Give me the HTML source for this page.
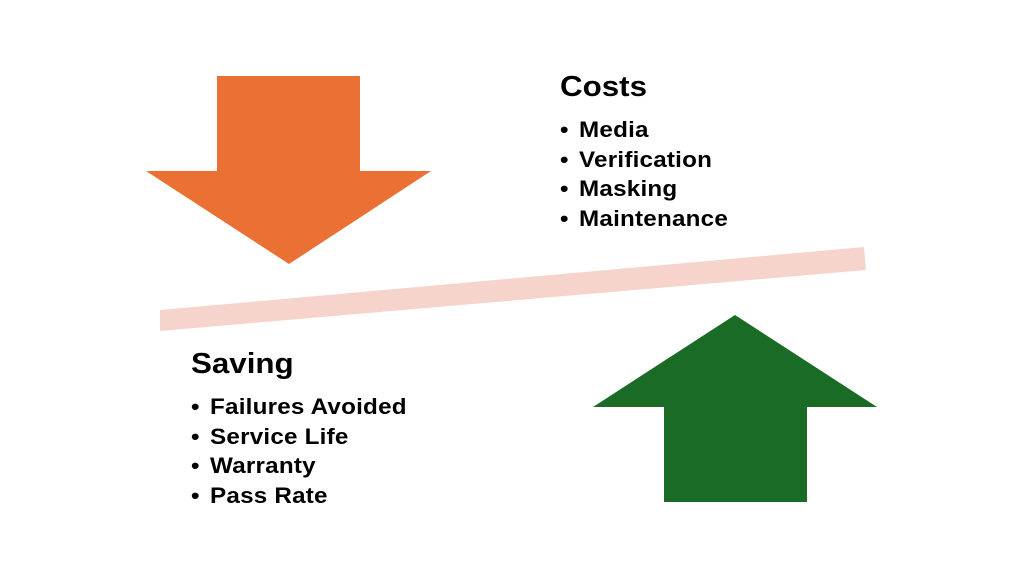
<!DOCTYPE html>
<html><head><meta charset="utf-8"><style>
body{margin:0;width:1024px;height:576px;background:#fff;position:relative;overflow:hidden;font-family:"Liberation Sans",Arial,sans-serif;font-weight:bold;color:#000}
.t{position:absolute;white-space:nowrap;transform-origin:0 0}
.h{font-size:29px;transform:scaleX(1.08)}
.b{font-size:22px;line-height:29.5px;letter-spacing:0.2px;transform:scaleX(1.1)}
.b span{display:inline-block;width:17.3px;letter-spacing:0}
</style></head><body>
<svg width="1024" height="576" style="position:absolute;left:0;top:0">
<polygon points="217,76 360,76 360,171 431,171 289,264 146,171 217,171" fill="#ea7133"/>
<polygon points="160,310 864,247 866,270 160,331" fill="#f6d3cb"/>
<polygon points="735,315 877,407 807,407 807,502 664,502 664,407 593,407" fill="#1a6b25"/>
</svg>
<div class="t h" style="left:560px;top:71px">Costs</div>
<div class="t b" style="left:560px;top:115px"><span>•</span>Media<br><span>•</span>Verification<br><span>•</span>Masking<br><span>•</span>Maintenance</div>
<div class="t h" style="left:191px;top:348px">Saving</div>
<div class="t b" style="left:191px;top:392px"><span>•</span>Failures Avoided<br><span>•</span>Service Life<br><span>•</span>Warranty<br><span>•</span>Pass Rate</div>
</body></html>
